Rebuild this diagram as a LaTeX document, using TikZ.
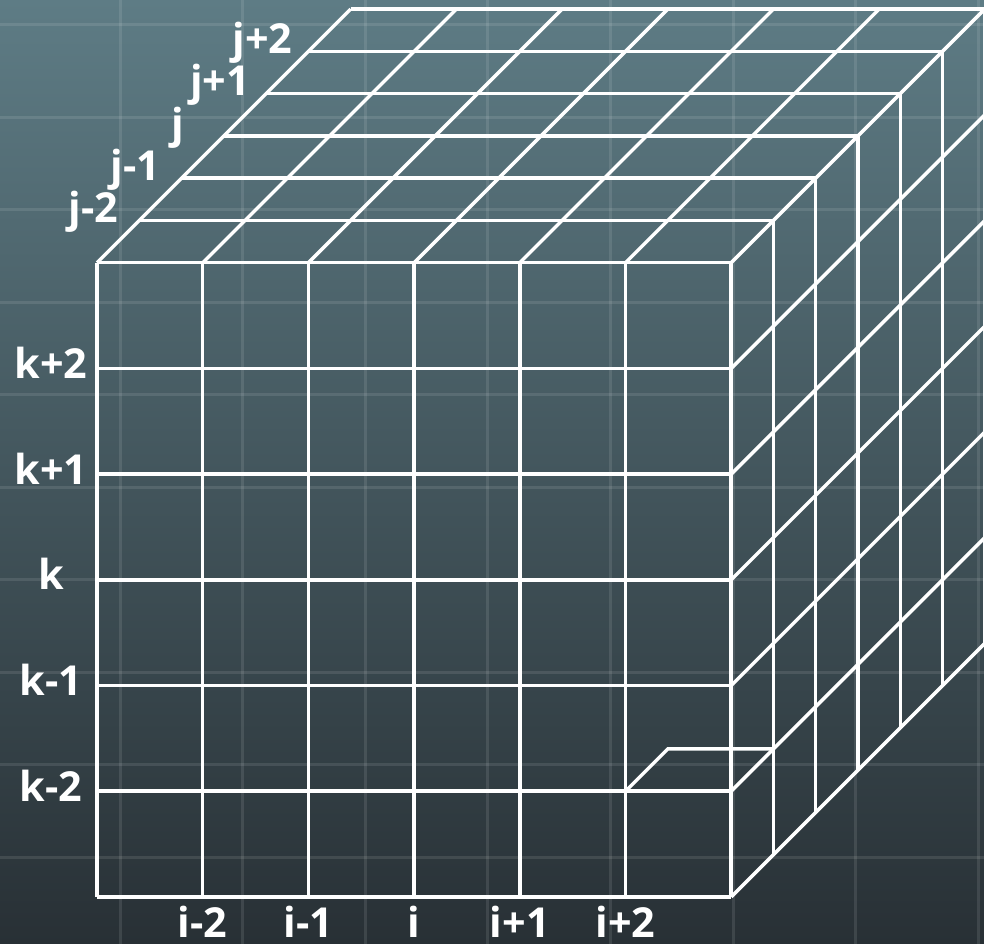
\documentclass[tikz,border=0pt]{standalone}
\usepackage{fontspec}
\setmainfont{Open Sans}
\usepackage{tikz}
\usepackage{xcolor}
\definecolor{bgtop}{HTML}{5E7C85}
\definecolor{bgbot}{HTML}{283035}

\begin{document}
\begin{tikzpicture}[x=79.3pt,y=79.3pt,
  wire/.style={white,line width=2.6pt},
  faint/.style={white,opacity=0.1,line width=2.2pt},
  lbl/.style={text=white,font=\bfseries\fontsize{31}{32}\selectfont,anchor=base,inner sep=0pt}]
\useasboundingbox (-0.918,-0.445) rectangle (8.392,8.486);
\fill[top color=bgtop,bottom color=bgbot] (-0.918,-0.445) rectangle (8.392,8.486);
\clip (-0.918,-0.445) rectangle (8.392,8.486);
% faint grid behind
\draw[faint] (0.218,-0.445)--(0.218,8.486);\draw[faint] (1.378,-0.445)--(1.378,8.486);
\draw[faint] (2.538,-0.445)--(2.538,8.486);\draw[faint] (3.698,-0.445)--(3.698,8.486);
\draw[faint] (4.858,-0.445)--(4.858,8.486);\draw[faint] (6.018,-0.445)--(6.018,8.486);
\draw[faint] (7.178,-0.445)--(7.178,8.486);\draw[faint] (8.338,-0.445)--(8.338,8.486);
\draw[faint] (-0.918,8.25)--(8.392,8.25);\draw[faint] (-0.918,7.375)--(8.392,7.375);
\draw[faint] (-0.918,6.5)--(8.392,6.5);\draw[faint] (-0.918,5.625)--(8.392,5.625);
\draw[faint] (-0.918,4.75)--(8.392,4.75);\draw[faint] (-0.918,3.875)--(8.392,3.875);
\draw[faint] (-0.918,3.0)--(8.392,3.0);\draw[faint] (-0.918,2.125)--(8.392,2.125);
\draw[faint] (-0.918,1.25)--(8.392,1.25);\draw[faint] (-0.918,0.375)--(8.392,0.375);
% front face
\draw[wire] (0,0)--(0,6);\draw[wire] (1,0)--(1,6);\draw[wire] (2,0)--(2,6);
\draw[wire] (3,0)--(3,6);\draw[wire] (4,0)--(4,6);\draw[wire] (5,0)--(5,6);
\draw[wire] (6,0)--(6,6);
\draw[wire] (0,0)--(6,0);\draw[wire] (0,1)--(6,1);\draw[wire] (0,2)--(6,2);
\draw[wire] (0,3)--(6,3);\draw[wire] (0,4)--(6,4);\draw[wire] (0,5)--(6,5);
\draw[wire] (0,6)--(6,6);
% top face
\draw[wire] (0.4,6.4)--(6.4,6.4);\draw[wire] (0.8,6.8)--(6.8,6.8);
\draw[wire] (1.2,7.2)--(7.2,7.2);\draw[wire] (1.6,7.6)--(7.6,7.6);
\draw[wire] (2.0,8.0)--(8.0,8.0);\draw[wire] (2.4,8.4)--(8.4,8.4);
\draw[wire] (0,6)--(2.4,8.4);\draw[wire] (1,6)--(3.4,8.4);\draw[wire] (2,6)--(4.4,8.4);
\draw[wire] (3,6)--(5.4,8.4);\draw[wire] (4,6)--(6.4,8.4);\draw[wire] (5,6)--(7.4,8.4);
\draw[wire] (6,6)--(8.4,8.4);
% right face
\draw[wire] (6.4,0.4)--(6.4,6.4);\draw[wire] (6.8,0.8)--(6.8,6.8);
\draw[wire] (7.2,1.2)--(7.2,7.2);\draw[wire] (7.6,1.6)--(7.6,7.6);
\draw[wire] (8.0,2.0)--(8.0,8.0);\draw[wire] (8.4,2.4)--(8.4,8.4);
\draw[wire] (6,0)--(8.4,2.4);\draw[wire] (6,1)--(8.4,3.4);\draw[wire] (6,2)--(8.4,4.4);
\draw[wire] (6,3)--(8.4,5.4);\draw[wire] (6,4)--(8.4,6.4);\draw[wire] (6,5)--(8.4,7.4);
% lid of the corner cell
\draw[wire] (5,1)--(5.4,1.4)--(6.4,1.4);
% labels
\node[lbl] (k2) at (-0.435,4.905) {k+2};
\node[lbl] (k1) at (-0.435,3.905) {k+1};
\node[lbl] (k0) at (-0.435,2.905) {k};
\node[lbl] (km1) at (-0.435,1.905) {k-1};
\node[lbl] (km2) at (-0.435,0.905) {k-2};
\node[lbl] (im2) at (1,-0.38) {i-2};
\node[lbl] (im1) at (2,-0.38) {i-1};
\node[lbl] (i0) at (3,-0.38) {i};
\node[lbl] (i1) at (4,-0.38) {i+1};
\node[lbl] (i2) at (5,-0.38) {i+2};
\node[lbl] (jm2) at (-0.035,6.38) {j-2};
\node[lbl] (jm1) at (0.365,6.78) {j-1};
\node[lbl] (j0) at (0.765,7.18) {j};
\node[lbl] (j1) at (1.165,7.58) {j+1};
\node[lbl] (j2) at (1.565,7.98) {j+2};
\end{tikzpicture}
\end{document}
